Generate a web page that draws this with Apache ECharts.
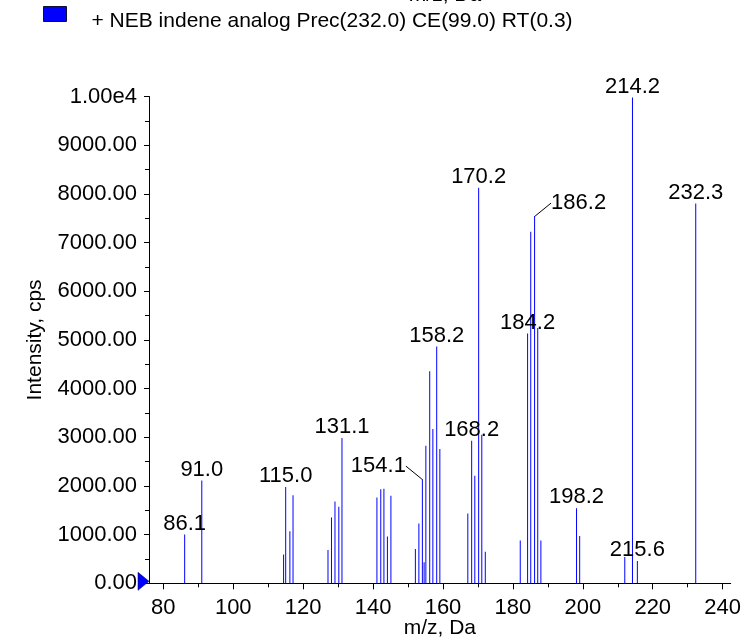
<!DOCTYPE html>
<html><head><meta charset="utf-8">
<script src="https://cdn.jsdelivr.net/npm/echarts@6/dist/echarts.min.js"></script>
<style>html,body{margin:0;padding:0;background:#fff}#c{width:744px;height:641px}</style>
</head><body><div id="c"></div>
<script>
const seriesName = '+ NEB indene analog Prec(232.0) CE(99.0) RT(0.3)';
const clippedTitle = 'm/z, Da';
const xName = 'm/z, Da';
const yName = 'Intensity, cps';
const mz = [86.1, 91.0, 114.4, 115.0, 116.2, 117.1, 127.1, 128.1, 129.1, 130.2, 131.1,
  141.1, 142.2, 143.1, 144.1, 145.1, 152.1, 153.1, 154.1, 154.6, 155.1, 156.2, 157.1, 158.2, 159.1,
  167.1, 168.2, 169.1, 170.2, 171.1, 172.1, 182.1, 184.2, 185.1, 186.2, 187.1, 188.0,
  198.2, 199.1, 212.0, 214.2, 215.6, 232.3];
const intensity = [1000, 2110, 590, 1980, 1070, 1810, 685, 1350, 1680, 1570, 2985,
  1762, 1934, 1940, 959, 1796, 706, 1227, 2140, 432, 2825, 4355, 3170, 4862, 2757,
  1433, 2928, 2208, 8128, 3051, 650, 877, 5130, 7222, 7543, 5247, 877,
  1543, 973, 540, 9980, 460, 7800];
const labeledPeaks = [86.1, 91.0, 115.0, 131.1, 154.1, 158.2, 168.2, 170.2, 184.2, 186.2, 198.2, 214.2, 215.6, 232.3];
const leaderPeaks = [154.1, 186.2];
const xMajorTicks = [80, 100, 120, 140, 160, 180, 200, 220, 240];
const xMinorTicks = [80, 90, 100, 110, 120, 130, 140, 150, 160, 170, 180, 190, 200, 210, 220, 230, 240];
const xMin = 75.9, xMax = 242.3;
const yMin = 0, yMax = 10000, yStep = 1000;

const FONT = 'Liberation Sans, Arial, sans-serif';
const leaderShift = {154.1: [-44, -1], 186.2: [44, -1]};

const data = mz.map((m, i) => {
  const item = {value: [m, intensity[i]]};
  if (labeledPeaks.includes(m)) {
    item.label = {show: true};
    if (leaderPeaks.includes(m)) item.labelLine = {show: true};
  }
  return item;
});

const chart = echarts.init(document.getElementById('c'), null, {renderer: 'canvas'});
chart.setOption({
  animation: false,
  backgroundColor: '#fff',
  textStyle: {fontFamily: FONT},
  legend: {
    left: 38, top: 1,
    icon: 'rect', itemWidth: 23, itemHeight: 15,
    itemStyle: {color: '#0000ff', borderColor: '#101030', borderWidth: 1},
    formatter: '{t|{name}}',
    textStyle: {
      fontSize: 21, color: '#000', fontFamily: FONT, padding: [0, 0, 0, 20],
      rich: {t: {fontSize: 21, color: '#000', fontFamily: FONT, padding: [15, 0, 0, 0]}}
    },
    data: [seriesName]
  },
  graphic: [{
    type: 'text', x: 445, y: 6, silent: true,
    style: {text: clippedTitle, font: '21px ' + FONT, fill: '#000', textAlign: 'center', textVerticalAlign: 'bottom'}
  }],
  grid: {left: 149, right: 13.3, top: 96.5, bottom: 57.7, containLabel: false, outerBoundsMode: 'none'},
  xAxis: [{
    type: 'value', min: xMin, max: xMax,
    name: xName, nameLocation: 'middle', nameGap: 34, nameMoveOverlap: false,
    nameTextStyle: {fontSize: 21, color: '#000', fontFamily: FONT},
    axisLine: {show: true, onZero: false, lineStyle: {color: '#000', width: 1}},
    axisTick: {show: true, customValues: xMajorTicks, length: 6, lineStyle: {color: '#000'}},
    axisLabel: {customValues: xMajorTicks, fontSize: 22, color: '#000', margin: 14, fontFamily: FONT},
    splitLine: {show: false}
  }, {
    type: 'value', min: xMin, max: xMax, position: 'bottom', offset: 0,
    axisLine: {show: false},
    axisTick: {show: true, customValues: xMinorTicks, length: 4, lineStyle: {color: '#000'}},
    axisLabel: {show: false},
    splitLine: {show: false}
  }],
  yAxis: {
    type: 'value', min: yMin, max: yMax, interval: yStep,
    name: yName, nameLocation: 'middle', nameGap: 103, nameMoveOverlap: false,
    nameTextStyle: {fontSize: 21, color: '#000', fontFamily: FONT},
    axisLine: {show: true, lineStyle: {color: '#000', width: 1}},
    axisTick: {show: true, length: 5, lineStyle: {color: '#000'}},
    minorTick: {show: true, splitNumber: 2, length: 4, lineStyle: {color: '#000'}},
    axisLabel: {
      fontSize: 22, color: '#000', margin: 12, fontFamily: FONT,
      formatter: v => v === yMax ? '1.00e4' : v.toFixed(2)
    },
    splitLine: {show: false}
  },
  series: [{
    name: seriesName,
    type: 'bar',
    xAxisIndex: 0,
    barWidth: 1,
    itemStyle: {color: '#0000ff'},
    label: {
      show: false, position: 'top', distance: 1,
      fontSize: 22, color: '#000', fontFamily: FONT,
      formatter: p => p.value[0].toFixed(1)
    },
    labelLine: {show: false, lineStyle: {color: '#000', width: 1}},
    labelLayout: p => {
      const m = mz[p.dataIndex];
      if (leaderShift[m] !== undefined) return {dx: leaderShift[m][0], dy: leaderShift[m][1]};
      return {dy: 1};
    },
    markPoint: {
      silent: true,
      label: {show: false},
      data: [{
        coord: [xMin, 0], symbol: 'triangle', symbolSize: [18, 11], symbolRotate: -90,
        symbolOffset: [-5.5, -2],
        itemStyle: {color: '#0000ff', borderColor: '#000040', borderWidth: 0.5}
      }]
    },
    data: data
  }]
});
</script></body></html>
